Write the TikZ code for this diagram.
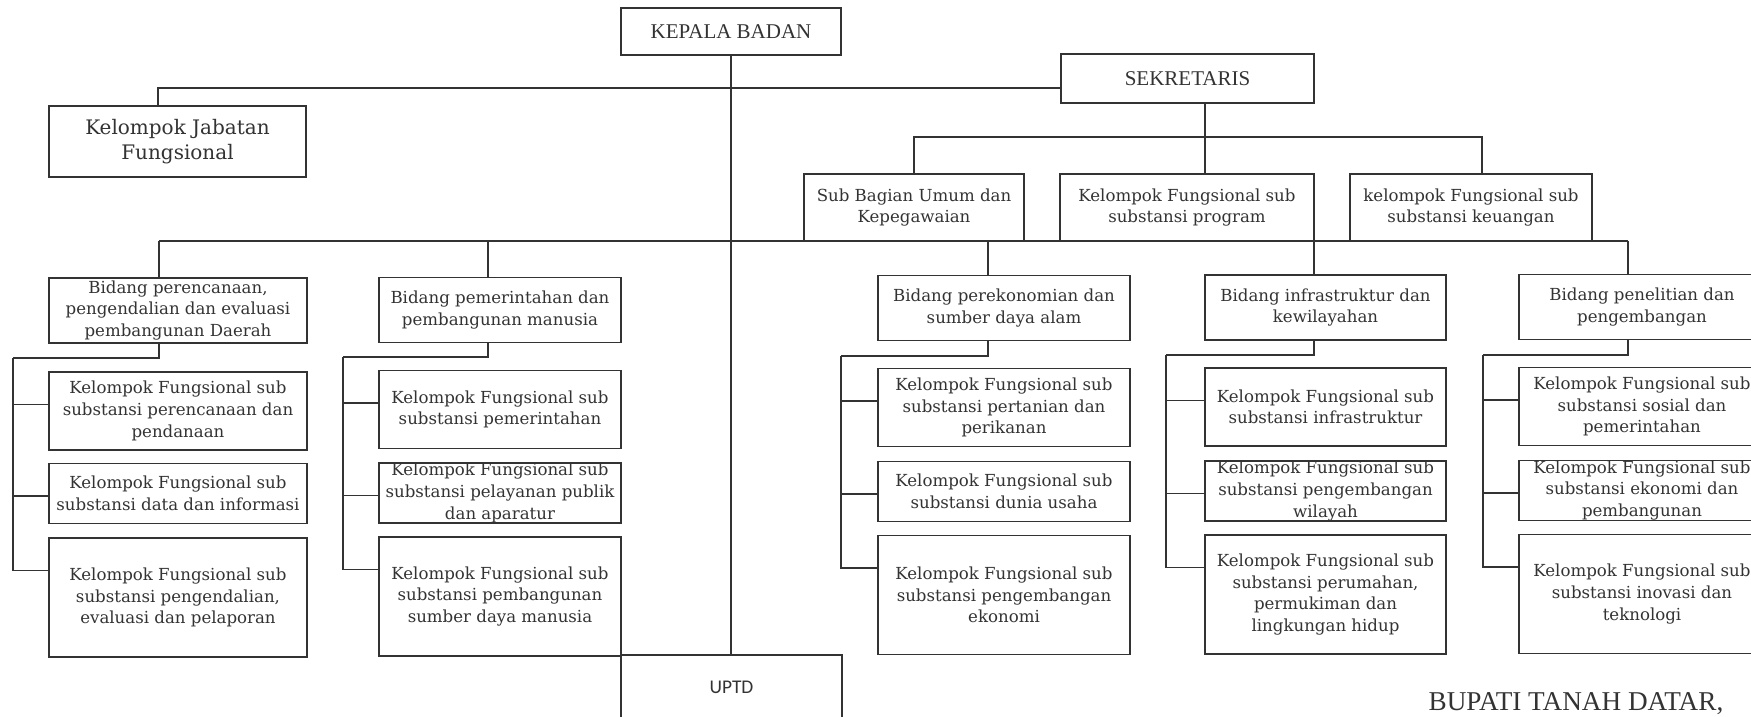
\documentclass[tikz,border=0pt]{standalone}
\usepackage{fontspec}
\setmainfont{DejaVu Serif}
\newfontfamily\judulfont{Liberation Serif}
\newfontfamily\uptdfont{Carlito}
\definecolor{tinta}{HTML}{333333}

\begin{document}
\begin{tikzpicture}[x=0.5pt,y=-0.5pt,line width=0.7pt,color=tinta]

			\tikzstyle{kotak}=[draw=tinta,fill=white,inner sep=0pt,
				align=center,font=\fontsize{8.3}{10.8}\selectfont]
			\tikzstyle{judul}=[kotak,
				font=\judulfont\fontsize{10.5}{12}\selectfont]
			\tikzstyle{tengah}=[kotak,minimum height=33.5pt]
			\tikzstyle{bidang}=[kotak,minimum height=32.5pt]
			\tikzstyle{baris1}=[kotak,minimum height=39pt]
			\tikzstyle{baris2}=[kotak,minimum height=30pt]
			\tikzstyle{baris3}=[kotak,minimum height=59.5pt]

			\useasboundingbox (0,0) rectangle (1751,717);

			\node[judul,minimum width=110pt,minimum height=23.5pt]	(kb)	at (731,31.5)	{KEPALA BADAN};
			\node[kotak,minimum width=128.5pt,minimum height=35.5pt,
				font=\fontsize{10}{12.5}\selectfont]	(kjf)	at (177.5,141.5)	{Kelompok Jabatan\\Fungsional};
			\node[judul,minimum width=126.5pt,minimum height=24.5pt]	(sek)	at (1187.5,78.5)	{SEKRETARIS};

			\node[tengah,minimum width=110pt]	(sbu)	at (914,207.5)	{Sub Bagian Umum dan\\Kepegawaian};
			\node[tengah,minimum width=127pt]	(kfp)	at (1187,207.5)	{Kelompok Fungsional sub\\substansi program};
			\node[tengah,minimum width=121pt]	(kfk)	at (1471,207.5)	{kelompok Fungsional sub\\substansi keuangan};

			\node[bidang,minimum width=129pt]	(b1)	at (178,310.5)	{Bidang perencanaan,\\pengendalian dan evaluasi\\pembangunan Daerah};
			\node[bidang,minimum width=121pt]	(b2)	at (500,310)	{Bidang pemerintahan dan\\pembangunan manusia};
			\node[bidang,minimum width=126pt]	(b3)	at (1004,308)	{Bidang perekonomian dan\\sumber daya alam};
			\node[bidang,minimum width=120.5pt]	(b4)	at (1325.5,307.5)	{Bidang infrastruktur dan\\kewilayahan};
			\node[bidang,minimum width=123pt]	(b5)	at (1642,307)	{Bidang penelitian dan\\pengembangan};

			\node[baris1,minimum width=129pt]	(11)	at (178,411)	{Kelompok Fungsional sub\\substansi perencanaan dan\\pendanaan};
			\node[baris2,minimum width=129pt]	(12)	at (178,493.5)	{Kelompok Fungsional sub\\substansi data dan informasi};
			\node[baris3,minimum width=129pt]	(13)	at (178,597.5)	{Kelompok Fungsional sub\\substansi pengendalian,\\evaluasi dan pelaporan};

			\node[baris1,minimum width=121pt]	(21)	at (500,409.5)	{Kelompok Fungsional sub\\substansi pemerintahan};
			\node[baris2,minimum width=121pt]	(22)	at (500,493)	{Kelompok Fungsional sub\\substansi pelayanan publik\\dan aparatur};
			\node[baris3,minimum width=121pt]	(23)	at (500,596.5)	{Kelompok Fungsional sub\\substansi pembangunan\\sumber daya manusia};

			\node[baris1,minimum width=126pt]	(31)	at (1004,407.5)	{Kelompok Fungsional sub\\substansi pertanian dan\\perikanan};
			\node[baris2,minimum width=126pt]	(32)	at (1004,491.5)	{Kelompok Fungsional sub\\substansi dunia usaha};
			\node[baris3,minimum width=126pt]	(33)	at (1004,595)	{Kelompok Fungsional sub\\substansi pengembangan\\ekonomi};

			\node[baris1,minimum width=120.5pt]	(41)	at (1325.5,407)	{Kelompok Fungsional sub\\substansi infrastruktur};
			\node[baris2,minimum width=120.5pt]	(42)	at (1325.5,491)	{Kelompok Fungsional sub\\substansi pengembangan\\wilayah};
			\node[baris3,minimum width=120.5pt]	(43)	at (1325.5,594.5)	{Kelompok Fungsional sub\\substansi perumahan,\\permukiman dan\\lingkungan hidup};

			\node[baris1,minimum width=123pt]	(51)	at (1642,406.5)	{Kelompok Fungsional sub\\substansi sosial dan\\pemerintahan};
			\node[baris2,minimum width=123pt]	(52)	at (1642,490.5)	{Kelompok Fungsional sub\\substansi ekonomi dan\\pembangunan};
			\node[baris3,minimum width=123pt]	(53)	at (1642,594)	{Kelompok Fungsional sub\\substansi inovasi dan\\teknologi};

			\node[kotak,minimum width=110.5pt,minimum height=32pt,
				font=\uptdfont\fontsize{9.7}{11}\selectfont]	(uptd)	at (731.5,687)	{UPTD};
			\node[anchor=base,font=\judulfont\fontsize{13.6}{15}\selectfont]	(ttd)	at (1576,710)	{BUPATI TANAH DATAR,};

			\coordinate (s) at (1205,137);
			\coordinate (t1) at (159,241);
			\coordinate (t2) at (488,241);
			\coordinate (t3) at (988,241);
			\coordinate (t4) at (1314,241);
			\coordinate (t5) at (1628,241);
			\coordinate (k1) at (13,358);
			\coordinate (k2) at (343,357);
			\coordinate (k3) at (841,356);
			\coordinate (k4) at (1166,355);
			\coordinate (k5) at (1483,355);

			\draw (kb.south) -- (kb.south |- uptd.north);
			\draw ([xshift=-9.75pt]kjf.north) |- ([yshift=-4.75pt]sek.west);
			\draw (s |- sek.south) -- (s |- kfp.north);
			\draw (sbu.north) |- (s) -| ([xshift=5.5pt]kfk.north);
			\draw (t1) -- (t5);

			\draw (t1) -- (t1 |- b1.north);
			\draw (t1 |- b1.south) |- (k1);
			\draw ([yshift=3.25pt]11.west) -| (k1);
			\draw ([yshift=-1.25pt]12.west) -| (k1);
			\draw ([yshift=13.5pt]13.west) -| (k1);

			\draw (t2) -- (t2 |- b2.north);
			\draw (t2 |- b2.south) |- (k2);
			\draw ([yshift=3.25pt]21.west) -| (k2);
			\draw ([yshift=-1.25pt]22.west) -| (k2);
			\draw ([yshift=13.5pt]23.west) -| (k2);

			\draw (t3) -- (t3 |- b3.north);
			\draw (t3 |- b3.south) |- (k3);
			\draw ([yshift=3.25pt]31.west) -| (k3);
			\draw ([yshift=-1.25pt]32.west) -| (k3);
			\draw ([yshift=13.5pt]33.west) -| (k3);

			\draw (t4) -- (t4 |- b4.north);
			\draw (t4 |- b4.south) |- (k4);
			\draw ([yshift=3.25pt]41.west) -| (k4);
			\draw ([yshift=-1.25pt]42.west) -| (k4);
			\draw ([yshift=13.5pt]43.west) -| (k4);

			\draw (t5) -- (t5 |- b5.north);
			\draw (t5 |- b5.south) |- (k5);
			\draw ([yshift=3.25pt]51.west) -| (k5);
			\draw ([yshift=-1.25pt]52.west) -| (k5);
			\draw ([yshift=13.5pt]53.west) -| (k5);

\end{tikzpicture}
\end{document}
